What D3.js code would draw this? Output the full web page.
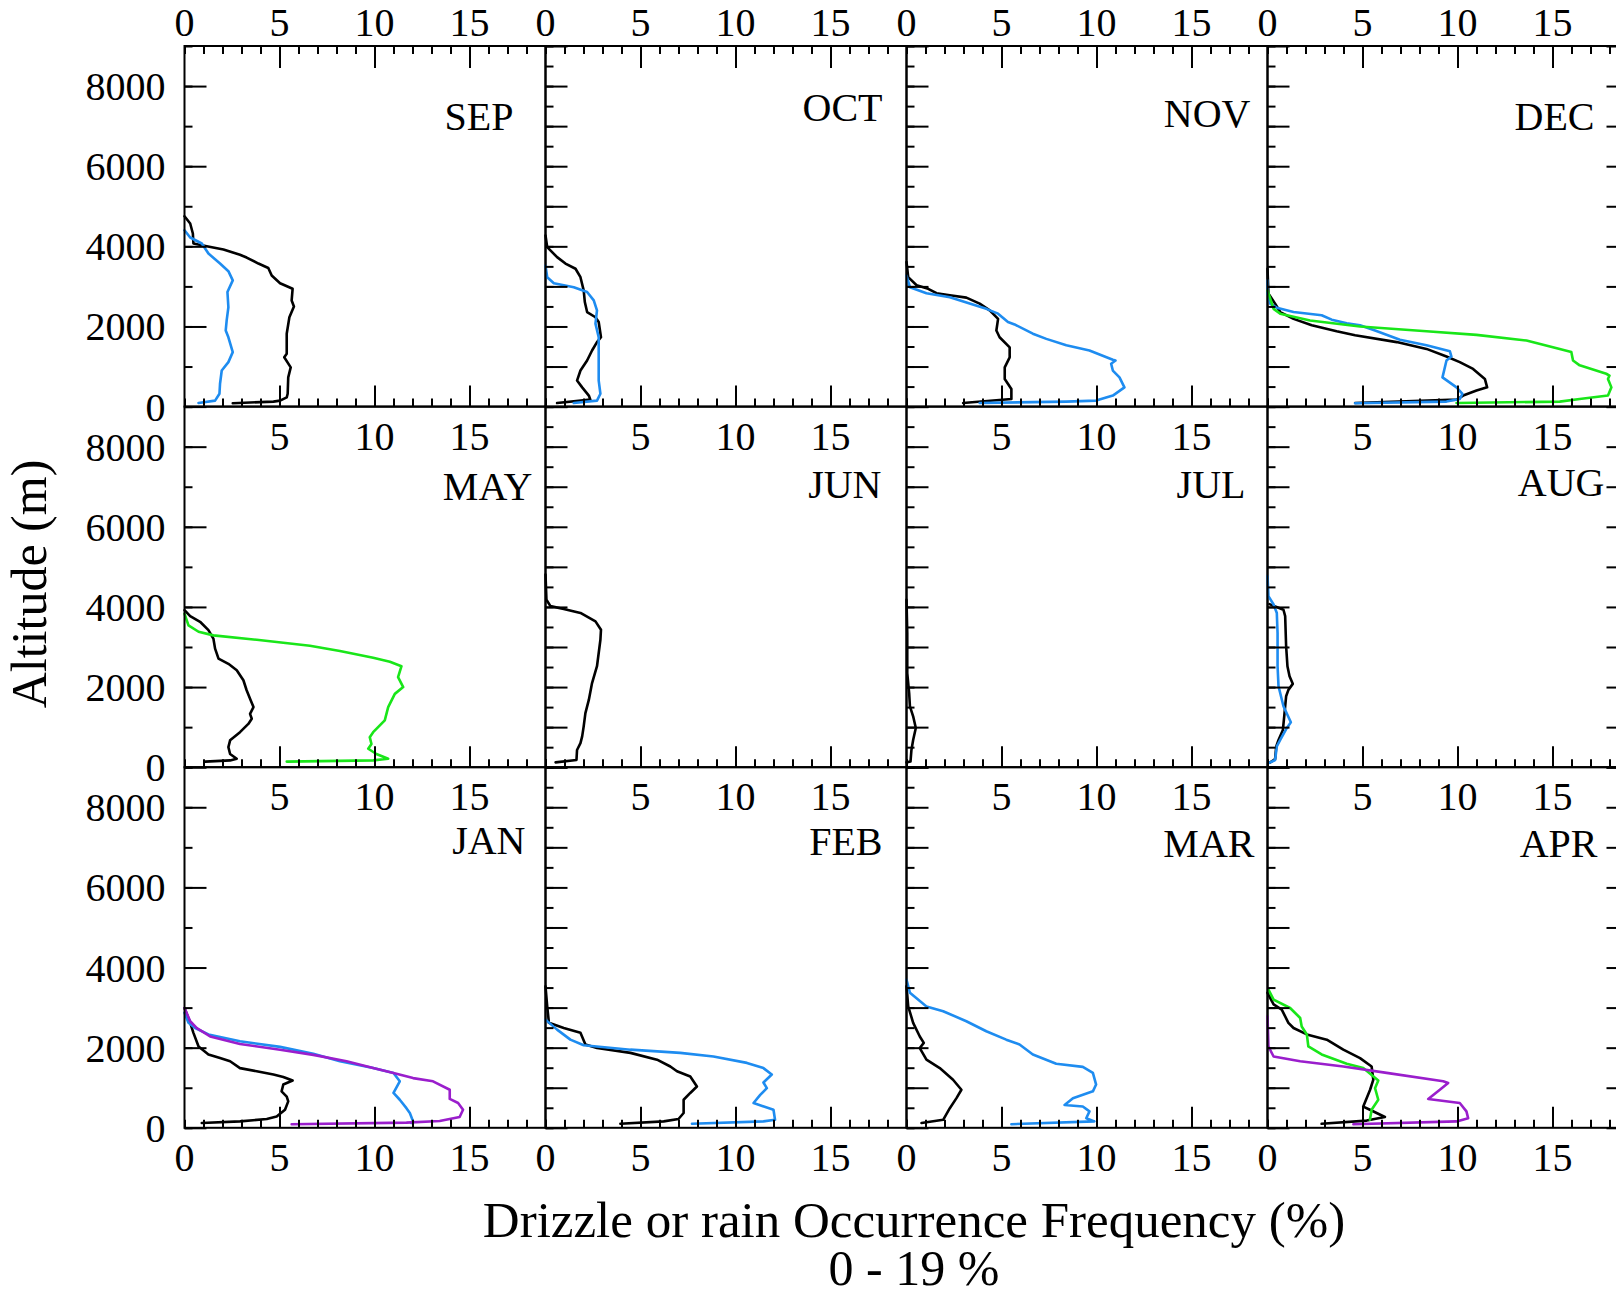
<!DOCTYPE html>
<html><head><meta charset="utf-8">
<script src="https://cdn.jsdelivr.net/npm/d3@7"></script>
<style>
body{margin:0;background:#fff}
svg text{font-family:"Liberation Serif","Times New Roman",Times,serif;fill:#000}
</style>
</head><body>
<svg id="c" width="1616" height="1292"></svg>
<script>
// ---------------- DATA ----------------
const months = ["SEP","OCT","NOV","DEC","MAY","JUN","JUL","AUG","JAN","FEB","MAR","APR"];
const xTickLabels = [0,5,10,15];
const xInnerTickLabels = [5,10,15];
const yTickLabels = [0,2000,4000,6000,8000];
const xTitle = "Drizzle or rain Occurrence Frequency (%)";
const xSubTitle = "0 - 19 %";
const yTitle = "Altitude (m)";

// each profile: [altitude (m), frequency (%)]
const sepBlack = [[4750,0],[4570,0.3],[4320,0.44],[4070,0.47],[4000,1.17],[3920,2.05],[3790,2.92],[3720,3.27],[3570,3.89],[3460,4.41],[3270,4.59],[3080,5.03],[2940,5.69],[2650,5.64],[2500,5.76],[2230,5.52],[1820,5.38],[1320,5.38],[1230,5.25],[980,5.59],[730,5.46],[320,5.43],[230,5.38],[150,5.03],[125,4.68],[83,2.54]];
const sepBlue = [[4400,0],[4220,0.3],[4070,0.91],[3820,1.26],[3570,1.87],[3380,2.31],[3150,2.54],[2860,2.26],[2480,2.31],[2150,2.22],[1900,2.17],[1730,2.31],[1360,2.54],[1110,2.31],[900,1.96],[570,1.87],[320,1.84],[150,1.61],[90,0.74]];
const octBlack = [[4270,0],[3980,0.09],[3730,0.61],[3570,1.05],[3440,1.58],[3230,1.84],[2900,2.01],[2610,2.07],[2360,2.19],[2230,2.63],[2110,2.8],[1730,2.92],[1610,2.71],[1400,2.45],[1150,2.19],[900,1.84],[650,1.66],[480,1.93],[275,2.28],[175,2.36],[90,0.61]];
const octBlue = [[3520,0],[3230,0.09],[3080,0.44],[2980,1.49],[2860,2.19],[2650,2.54],[2400,2.71],[2070,2.63],[1730,2.8],[980,2.8],[650,2.8],[320,2.89],[150,2.71],[90,1.49]];
const novBlack = [[3610,0],[3230,0.09],[3030,0.53],[2940,1.14],[2830,1.58],[2780,2.28],[2720,3.15],[2570,3.85],[2400,4.38],[2190,4.82],[1900,4.73],[1730,4.9],[1480,5.43],[1230,5.43],[980,5.17],[690,5.17],[440,5.52],[190,5.52],[90,2.98]];
const novBlue = [[3270,0],[2980,0.18],[2830,1.05],[2730,2.28],[2440,4.2],[2320,4.82],[2110,5.34],[2050,5.69],[1820,6.65],[1690,7.36],[1530,8.41],[1400,9.63],[1170,10.86],[1150,11.0],[1070,10.77],[900,10.86],[730,11.21],[480,11.47],[275,10.86],[150,9.98],[125,8.41],[90,3.85]];
const decBlack = [[3440,0],[2820,0.05],[2570,0.4],[2360,0.67],[2190,1.37],[2030,2.33],[1880,3.64],[1780,4.61],[1610,6.8],[1440,8.37],[1250,9.42],[1110,10.12],[940,10.82],[690,11.44],[480,11.56],[400,11.0],[275,10.3],[175,9.95],[90,4.61]];
const decBlue = [[3150,0],[2820,0],[2570,0.14],[2470,0.49],[2360,1.37],[2280,2.85],[2170,3.38],[2080,4.17],[2030,4.87],[1900,5.66],[1670,6.97],[1530,8.37],[1380,9.6],[1250,9.68],[1150,9.42],[730,9.21],[480,9.95],[320,10.26],[190,10.12],[125,9.42],[83,4.61]];
const decGreen = [[2900,0],[2440,0.32],[2320,0.67],[2150,2.24],[2000,4.87],[1880,8.37],[1790,11.0],[1650,13.63],[1440,15.38],[1360,15.99],[1150,16.08],[1030,16.43],[820,17.83],[775,18.0],[690,17.92],[480,18.1],[275,17.92],[190,16.43],[125,15.38],[90,9.95]];
const mayBlack = [[3920,0],[3770,0.3],[3630,0.82],[3420,1.26],[3210,1.52],[2960,1.61],[2710,1.79],[2580,2.31],[2420,2.75],[2170,3.1],[1920,3.27],[1710,3.45],[1500,3.63],[1330,3.45],[1210,3.54],[1080,3.36],[875,2.92],[670,2.4],[500,2.31],[330,2.4],[210,2.75],[170,2.4],[140,1.09]];
const mayGreen = [[3830,0],[3540,0.21],[3380,0.74],[3290,1.52],[3180,3.8],[3030,6.6],[2900,8.18],[2730,9.93],[2630,10.81],[2520,11.42],[2250,11.24],[2000,11.51],[1830,11.07],[1500,10.72],[1170,10.54],[875,9.93],[750,9.75],[580,9.84],[460,9.67],[330,10.1],[210,10.72],[170,9.93],[140,5.38]];
const junBlack = [[4810,0],[4180,0.05],[4020,0.26],[3950,0.96],[3850,1.84],[3640,2.63],[3430,2.92],[3180,2.89],[2520,2.71],[2100,2.45],[1680,2.28],[1350,2.1],[1020,2.01],[770,1.93],[600,1.84],[430,1.66],[180,1.63],[120,0.53]];
const julBlack = [[4180,0],[3350,0.04],[2350,0.04],[1850,0.14],[1520,0.18],[1270,0.35],[980,0.49],[680,0.35],[430,0.26],[140,0.21],[120,0]];
const augBlack = [[4070,0.1],[3930,0.84],[3770,0.93],[3020,0.98],[2520,1.05],[2270,1.16],[2080,1.33],[1930,1.1],[1770,0.98],[1270,0.88],[930,0.81],[680,0.58],[520,0.46],[200,0.4],[120,0.14]];
const augBlue = [[4770,0],[4270,0.05],[4060,0.32],[3850,0.49],[3350,0.53],[2520,0.53],[2020,0.58],[1520,0.84],[1120,1.23],[980,1.02],[680,0.67],[520,0.49],[180,0.4],[100,0.05]];
const janBlack = [[2990,0],[2620,0.3],[2370,0.47],[2030,0.74],[1830,1.26],[1740,1.87],[1660,2.4],[1490,2.92],[1410,3.8],[1330,4.68],[1270,5.2],[1180,5.69],[1080,5.2],[910,5.11],[780,5.38],[660,5.46],[450,5.29],[280,4.85],[220,4.33],[160,2.92],[120,0.91]];
const janBlue = [[2870,0],[2620,0.21],[2490,0.56],[2330,1.26],[2160,2.92],[2020,5.03],[1850,6.78],[1660,8.18],[1490,9.93],[1370,11.0],[1160,11.33],[870,11.0],[700,11.33],[490,11.68],[370,11.86],[160,12.03],[120,11.94]];
const janPurple = [[2990,0],[2660,0.3],[2490,0.65],[2280,1.35],[2090,2.92],[1950,5.03],[1820,6.78],[1660,8.53],[1490,9.93],[1370,11.0],[1240,12.03],[1160,13.08],[950,13.96],[720,13.96],[620,14.4],[450,14.66],[270,14.48],[170,13.43],[130,11.68],[90,5.64]];
const febBlack = [[3530,0],[3030,0.09],[2620,0.18],[2490,0.96],[2370,1.84],[2080,2.1],[1990,2.71],[1870,4.47],[1700,5.87],[1530,6.57],[1410,6.92],[1280,7.62],[1030,7.97],[870,7.62],[700,7.27],[370,7.27],[220,7.0],[160,6.22],[100,3.94]];
const febBlue = [[2700,0],[2450,0.61],[2200,1.31],[2060,2.01],[1950,4.47],[1870,7.09],[1780,8.84],[1620,10.6],[1490,11.47],[1330,11.91],[1130,11.47],[990,11.65],[820,11.3],[620,10.95],[450,12.0],[200,12.08],[160,11.47],[100,7.71]];
const marBlack = [[3530,0],[3030,0.09],[2620,0.35],[2280,0.7],[2120,0.91],[1990,0.7],[1700,1.05],[1490,1.75],[1200,2.45],[950,2.89],[740,2.63],[490,2.28],[200,1.93],[120,0.79]];
const marBlue = [[3700,0],[3370,0.18],[3030,1.05],[2910,1.93],[2660,3.15],[2410,4.2],[2200,5.25],[2080,5.95],[1830,6.65],[1600,7.88],[1520,9.28],[1370,9.81],[1080,9.98],[910,9.81],[740,8.76],[570,8.32],[530,9.28],[410,9.63],[240,9.46],[160,9.89],[90,5.52]];
const aprBlack = [[3370,0],[3080,0.32],[2950,0.75],[2620,1.1],[2490,1.37],[2330,2.07],[2200,3.12],[1950,3.99],[1740,4.87],[1530,5.48],[1200,5.57],[950,5.4],[530,5.04],[450,5.39],[270,6.18],[180,5.22],[100,2.85]];
const aprGreen = [[3450,0.05],[3200,0.32],[2990,1.19],[2740,1.72],[2530,1.8],[2330,2.07],[2030,2.15],[1830,2.85],[1600,4.17],[1490,5.04],[1180,5.83],[990,5.66],[700,5.83],[450,5.48],[200,5.39]];
const aprPurple = [[2780,0],[2030,0.05],[1780,0.32],[1660,1.72],[1530,3.99],[1370,6.27],[1160,9.25],[1120,9.51],[950,9.07],[720,8.46],[620,10.12],[410,10.47],[240,10.56],[160,9.95],[90,4.52]];

// panel -> profiles (drawing order: black, blue, green, purple)
const panelSeries = [
  [["black",sepBlack],["blue",sepBlue]],
  [["black",octBlack],["blue",octBlue]],
  [["black",novBlack],["blue",novBlue]],
  [["black",decBlack],["blue",decBlue],["green",decGreen]],
  [["black",mayBlack],["green",mayGreen]],
  [["black",junBlack]],
  [["black",julBlack]],
  [["black",augBlack],["blue",augBlue]],
  [["black",janBlack],["blue",janBlue],["purple",janPurple]],
  [["black",febBlack],["blue",febBlue]],
  [["black",marBlack],["blue",marBlue]],
  [["black",aprBlack],["green",aprGreen],["purple",aprPurple]]
];

// ---------------- STYLE / LAYOUT ----------------
const colors = {black:"#000000", blue:"#1e8cf0", green:"#19e619", purple:"#9a1ecc"};
const labelOffsets = [[32,84],[24,75],[17,81],[34,84],[13,93],[25,91],[22,91],[24,89],[20,87],[24,88],[13,90],[31,90]];
const L0 = 184.5, T0 = 46, W = 361, H = 360.6;
const FS = 40;

const svg = d3.select("#c");
const xDomain = [0,19], yDomain = [0,9000];

function styleAxis(sel){
  sel.select(".domain").remove();
  sel.selectAll(".tick line").attr("stroke","#000").attr("stroke-width",2);
  sel.selectAll(".tick text").remove();
}

months.forEach((m,i)=>{
  const col = i%4, row = Math.floor(i/4);
  const g = svg.append("g").attr("transform",`translate(${L0+col*W},${T0+row*H})`);
  const x = d3.scaleLinear().domain(xDomain).range([0,W]);
  const y = d3.scaleLinear().domain(yDomain).range([H,0]);

  // profiles
  const line = d3.line().x(d=>x(d[1])).y(d=>y(d[0]));
  panelSeries[i].forEach(([c,data])=>{
    g.append("path").datum(data).attr("d",line)
      .attr("fill","none").attr("stroke",colors[c]).attr("stroke-width",2.6)
      .attr("stroke-linejoin","round").attr("stroke-linecap","round");
  });

  // frame
  g.append("rect").attr("width",W).attr("height",H)
    .attr("fill","none").attr("stroke","#000").attr("stroke-width",2);

  // left axis ticks
  const yMinor = col===0 ? d3.range(0,9001,1000) : d3.range(0,9001,500);
  const yMajor = col===0 ? d3.range(0,9001,2000) : d3.range(0,9001,1000);
  g.append("g").call(d3.axisLeft(y).tickValues(yMinor).tickSize(-8).tickSizeOuter(0)).call(styleAxis);
  g.append("g").call(d3.axisLeft(y).tickValues(yMajor).tickSize(-22).tickSizeOuter(0)).call(styleAxis);
  if(col===3){
    g.append("g").attr("transform",`translate(${W},0)`).call(d3.axisRight(y).tickValues(d3.range(0,9001,500)).tickSize(-8).tickSizeOuter(0)).call(styleAxis);
    g.append("g").attr("transform",`translate(${W},0)`).call(d3.axisRight(y).tickValues(d3.range(0,9001,1000)).tickSize(-22).tickSizeOuter(0)).call(styleAxis);
  }
  // bottom ticks
  g.append("g").attr("transform",`translate(0,${H})`).call(d3.axisBottom(x).tickValues(d3.range(0,20,1)).tickSize(-8).tickSizeOuter(0)).call(styleAxis);
  g.append("g").attr("transform",`translate(0,${H})`).call(d3.axisBottom(x).tickValues([5,10,15]).tickSize(-21).tickSizeOuter(0)).call(styleAxis);
  // top ticks (first row only)
  if(row===0){
    g.append("g").call(d3.axisTop(x).tickValues(d3.range(0,20,1)).tickSize(-8).tickSizeOuter(0)).call(styleAxis);
    g.append("g").call(d3.axisTop(x).tickValues([5,10,15]).tickSize(-22).tickSizeOuter(0)).call(styleAxis);
    g.selectAll(null).data(xTickLabels).enter().append("text")
      .attr("x",d=>x(d)).attr("y",-10).attr("text-anchor","middle")
      .attr("font-size",FS).text(d=>d);
  }
  // bottom labels
  const bl = row===2 ? xTickLabels : xInnerTickLabels;
  g.selectAll(null).data(bl).enter().append("text")
    .attr("x",d=>x(d)).attr("y",H+43).attr("text-anchor","middle")
    .attr("font-size",FS).text(d=>d);
  // y labels (first column)
  if(col===0){
    g.selectAll(null).data(yTickLabels).enter().append("text")
      .attr("x",-19).attr("y",d=>y(d)).attr("dy","0.35em").attr("text-anchor","end")
      .attr("font-size",FS).text(d=>d);
  }
  // month label
  const [dx,dy] = labelOffsets[i];
  g.append("text").attr("x",W-dx).attr("y",dy).attr("text-anchor","end")
    .attr("font-size",FS).text(m);
});

svg.append("text").attr("x",914).attr("y",1237).attr("text-anchor","middle").attr("font-size",51).text(xTitle);
svg.append("text").attr("x",914).attr("y",1285).attr("text-anchor","middle").attr("font-size",50).text(xSubTitle);
svg.append("text").attr("transform","translate(46,584) rotate(-90)").attr("text-anchor","middle").attr("font-size",50).text(yTitle);
</script>
</body></html>
